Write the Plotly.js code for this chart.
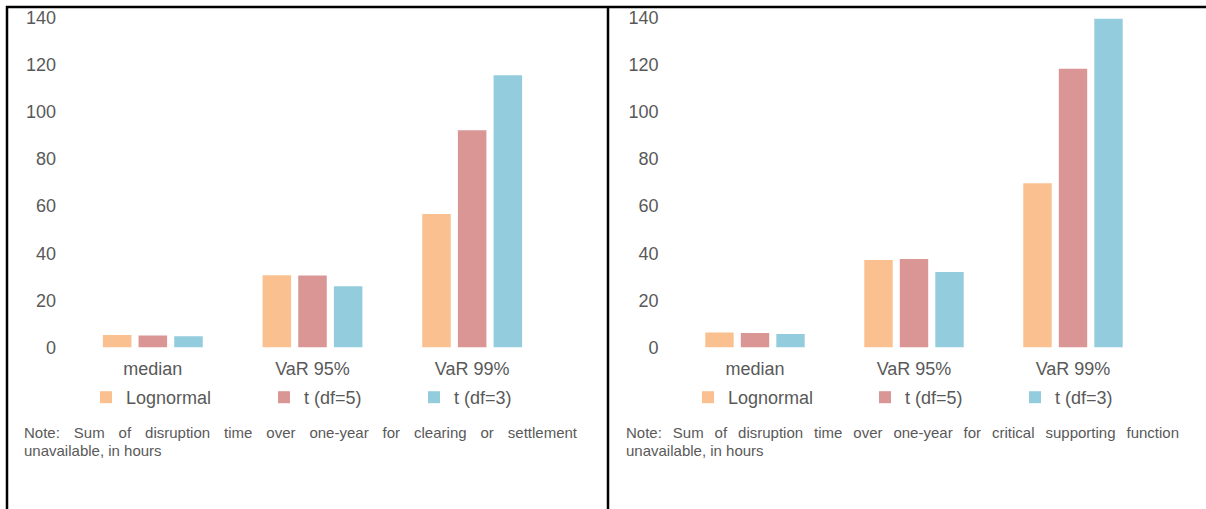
<!DOCTYPE html>
<html>
<head>
<meta charset="utf-8">
<script src="https://cdn.plot.ly/plotly-3.0.1.min.js"></script>
<style>
  html, body { margin: 0; padding: 0; background: #ffffff; }
  #chart { width: 1206px; height: 509px; }
</style>
</head>
<body>
<div id="chart"></div>
<script>
// ---- Data ----
const categories = ['median', 'VaR 95%', 'VaR 99%'];
const seriesNames = ['Lognormal', 't (df=5)', 't (df=3)'];
// Left panel: clearing or settlement unavailable (hours)
const clearingLognormal = [5.3, 30.7, 56.6];
const clearingT5 = [5.1, 30.5, 92.2];
const clearingT3 = [4.8, 26.0, 115.5];
// Right panel: critical supporting function unavailable (hours)
const supportLognormal = [6.4, 37.1, 69.7];
const supportT5 = [6.1, 37.5, 118.3];
const supportT3 = [5.7, 32.0, 139.5];
const yTickValues = [0, 20, 40, 60, 80, 100, 120, 140];
const noteLeftLine1 = 'Note: Sum of disruption time over one-year for clearing or settlement';
const noteRightLine1 = 'Note: Sum of disruption time over one-year for critical supporting function';
const noteLine2 = 'unavailable, in hours';

// ---- Styling ----
const W = 1206, H = 509;
const colors = ['#FAC090', '#D99694', '#93CDDD'];
const textColor = '#595959';
const fontFamily = '"Liberation Sans", Arial, sans-serif';
const px = v => v / W;
const py = v => 1 - v / H;

const leftSeries = [clearingLognormal, clearingT5, clearingT3];
const rightSeries = [supportLognormal, supportT5, supportT3];

const traces = [];
const legendLayouts = {};
const legendTextStartsLeft = [124, 302, 452];
const legendTextStartsRight = [726, 903, 1053];
let legendIdx = 1;
function addPanel(seriesList, xa, ya, textStarts) {
  seriesList.forEach((vals, i) => {
    const key = legendIdx === 1 ? 'legend' : 'legend' + legendIdx;
    traces.push({
      type: 'bar',
      x: categories,
      y: vals,
      name: seriesNames[i],
      xaxis: xa,
      yaxis: ya,
      legend: key,
      marker: { color: colors[i], line: { width: 0 } },
      hoverinfo: 'x+y+name'
    });
    legendLayouts[key] = {
      x: px(textStarts[i] - 38),
      xanchor: 'left',
      y: py(397.5),
      yanchor: 'middle',
      orientation: 'h',
      bgcolor: 'rgba(0,0,0,0)',
      borderwidth: 0,
      font: { family: fontFamily, size: 18, color: textColor }
    };
    legendIdx++;
  });
}
addPanel(leftSeries, 'x', 'y', legendTextStartsLeft);
addPanel(rightSeries, 'x2', 'y2', legendTextStartsRight);

const yAxisCommon = {
  range: [0, 140],
  tickvals: yTickValues,
  showgrid: false,
  zeroline: false,
  showline: false,
  ticks: '',
  ticklabelstandoff: 16,
  tickfont: { family: fontFamily, size: 18, color: textColor },
  domain: [py(347.5), py(17.5)],
  fixedrange: true
};
const xAxisCommon = {
  type: 'category',
  showgrid: false,
  zeroline: false,
  showline: false,
  ticks: '',
  ticklabelstandoff: 8,
  tickfont: { family: fontFamily, size: 18, color: textColor },
  fixedrange: true
};

const lineStyle = { color: '#000000', width: 2.5 };
const noteFont = { family: fontFamily, size: 15, color: textColor };
function note(text, x, y) {
  return { text: text, x: px(x), y: py(y), xref: 'paper', yref: 'paper', xanchor: 'left', yanchor: 'middle', align: 'left', showarrow: false, font: noteFont };
}
const layout = {
  width: W,
  height: H,
  margin: { l: 0, r: 0, t: 0, b: 0, pad: 0 },
  paper_bgcolor: '#ffffff',
  plot_bgcolor: '#ffffff',
  barmode: 'group',
  bargap: 0.33,
  bargroupgap: 0.2,
  showlegend: true,
  font: { family: fontFamily, color: textColor },
  xaxis: Object.assign({}, xAxisCommon, { domain: [px(73), px(552)], anchor: 'y' }),
  yaxis: Object.assign({}, yAxisCommon, { anchor: 'x' }),
  xaxis2: Object.assign({}, xAxisCommon, { domain: [px(675.5), px(1152.5)], anchor: 'y2' }),
  yaxis2: Object.assign({}, yAxisCommon, { anchor: 'x2' }),
  shapes: [
    { type: 'line', xref: 'paper', yref: 'paper', x0: px(6), x1: 1, y0: py(7), y1: py(7), line: lineStyle },
    { type: 'line', xref: 'paper', yref: 'paper', x0: px(7), x1: px(7), y0: py(6), y1: 0, line: lineStyle },
    { type: 'line', xref: 'paper', yref: 'paper', x0: px(608), x1: px(608), y0: py(6), y1: 0, line: lineStyle }
  ],
  annotations: [
    note(noteLeftLine1, 22, 432),
    note(noteLine2, 22, 450),
    note(noteRightLine1, 624, 432),
    note(noteLine2, 624, 450)
  ]
};
Object.assign(layout, legendLayouts);

// Justify the first note line of each panel (as in the source document)
const justifyTargets = { 0: 553, 2: 553 };
function justifyNotes() {
  document.querySelectorAll('#chart g.annotation').forEach(g => {
    const idx = g.getAttribute('data-index');
    if (!(idx in justifyTargets)) return;
    const t = g.querySelector('text.annotation-text');
    if (!t) return;
    t.setAttribute('text-anchor', 'start');
    t.style.wordSpacing = '0px';
    const len = t.getComputedTextLength();
    const spaces = (t.textContent.match(/ /g) || []).length;
    if (spaces > 0) {
      const extra = (justifyTargets[idx] - len) / spaces;
      if (extra > 0) t.style.wordSpacing = extra + 'px';
    }
  });
}

Plotly.newPlot('chart', traces, layout, { staticPlot: true, displayModeBar: false }).then(justifyNotes);
</script>
</body>
</html>
